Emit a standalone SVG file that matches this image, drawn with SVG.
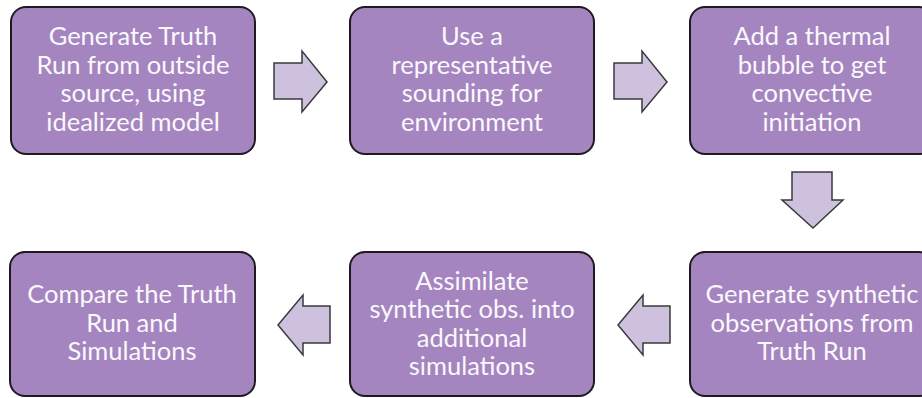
<svg xmlns="http://www.w3.org/2000/svg" width="922" height="398" viewBox="0 0 922 398">
<style>
.box{fill:#A585BF;stroke:#1f1a22;stroke-width:2}
.arr{fill:#CEC1DE;stroke:#3a3a3a;stroke-width:1.5;stroke-linejoin:miter}
text{font-family:"Lato","Open Sans",sans-serif;font-size:25.5px;fill:#FAF8FC;text-anchor:middle}
</style>
<rect width="922" height="398" fill="#FFFFFF"/>
<g id="connectors">
<path class="arr" d="M274,63 H302 V51 L327,82 L302,112 V99 H274 Z"/>
<path class="arr" d="M614,63 H642 V51 L667,82 L642,112 V99 H614 Z"/>
<path class="arr" d="M792,172 H832 V200 H843 L813,228 L782,200 H792 Z"/>
<path class="arr" d="M670,306 H643 V295 L618,325 L643,355 V343 H670 Z"/>
<path class="arr" d="M330,306 H303 V295 L278,325 L303,355 V343 H330 Z"/>
</g>
<g id="n1">
<rect class="box" x="11" y="7" width="244" height="147" rx="15"/>
<text x="133" y="45">Generate Truth</text>
<text x="133" y="74">Run from outside</text>
<text x="133" y="102">source, using</text>
<text x="133" y="131">idealized model</text>
</g>
<g id="n2">
<rect class="box" x="350" y="7" width="244" height="147" rx="15"/>
<text x="472" y="45">Use a</text>
<text x="472" y="74">representative</text>
<text x="472" y="102">sounding for</text>
<text x="472" y="131">environment</text>
</g>
<g id="n3">
<rect class="box" x="690" y="7" width="244" height="147" rx="15"/>
<text x="812" y="45">Add a thermal</text>
<text x="812" y="74">bubble to get</text>
<text x="812" y="102">convective</text>
<text x="812" y="131">initiation</text>
</g>
<g id="n4">
<rect class="box" x="690" y="252" width="244" height="144" rx="15"/>
<text x="812" y="303">Generate synthetic</text>
<text x="812" y="332">observations from</text>
<text x="812" y="360">Truth Run</text>
</g>
<g id="n5">
<rect class="box" x="350" y="252" width="244" height="144" rx="15"/>
<text x="472" y="290">Assimilate</text>
<text x="472" y="318">synthetic obs. into</text>
<text x="472" y="347">additional</text>
<text x="472" y="375">simulations</text>
</g>
<g id="n6">
<rect class="box" x="10" y="252" width="245" height="144" rx="15"/>
<text x="132" y="303">Compare the Truth</text>
<text x="132" y="332">Run and</text>
<text x="132" y="360">Simulations</text>
</g>
</svg>
